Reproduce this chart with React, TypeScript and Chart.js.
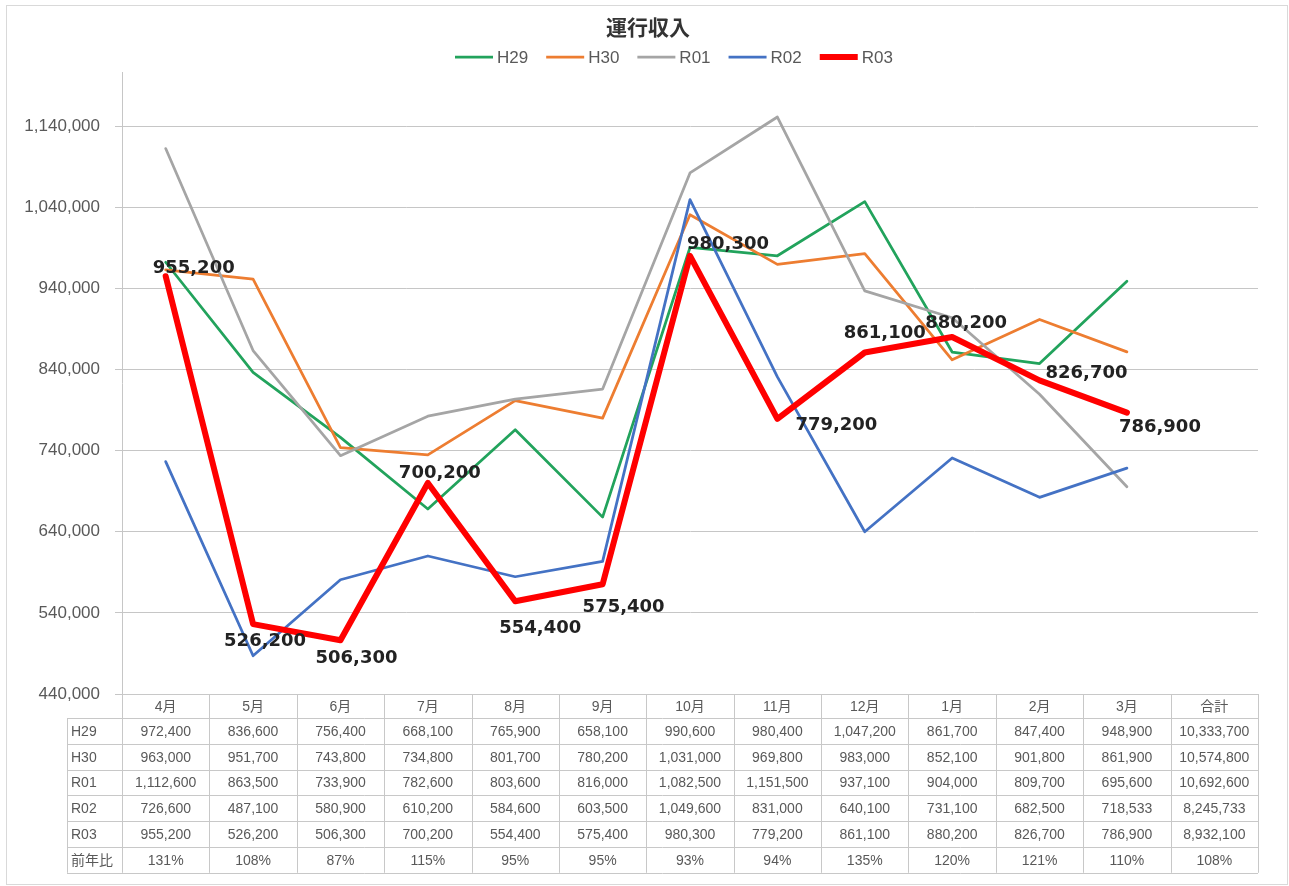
import React, { useEffect, useRef } from 'react';
import { Chart, registerables } from 'chart.js';

Chart.register(...registerables);

const months = ['4月', '5月', '6月', '7月', '8月', '9月', '10月', '11月', '12月', '1月', '2月', '3月', '合計'];
const seriesNames = ['H29', 'H30', 'R01', 'R02', 'R03'];
const H29 = [972400, 836600, 756400, 668100, 765900, 658100, 990600, 980400, 1047200, 861700, 847400, 948900];
const H30 = [963000, 951700, 743800, 734800, 801700, 780200, 1031000, 969800, 983000, 852100, 901800, 861900];
const R01 = [1112600, 863500, 733900, 782600, 803600, 816000, 1082500, 1151500, 937100, 904000, 809700, 695600];
const R02 = [726600, 487100, 580900, 610200, 584600, 603500, 1049600, 831000, 640100, 731100, 682500, 718533];
const R03 = [955200, 526200, 506300, 700200, 554400, 575400, 980300, 779200, 861100, 880200, 826700, 786900];
const totals = [10333700, 10574800, 10692600, 8245733, 8932100];
const yoyLabel = '前年比';
const yoy = ['131%', '108%', '87%', '115%', '95%', '95%', '93%', '94%', '135%', '120%', '121%', '110%', '108%'];
const yTickValues = [440000, 540000, 640000, 740000, 840000, 940000, 1040000, 1140000];

const Y_MIN = 440000;
const Y_MAX = 1207000;

const colors = ['#22A35C', '#ED7D31', '#A5A5A5', '#4472C4', '#FF0000'];
const widths = [2.75, 2.75, 2.75, 2.75, 6];

// label offsets (dx, dy) relative to the R03 points, as placed in the original
const labelOffsets = [
  [28, -8], [12, 17], [16, 18], [12, -10], [25, 27], [21, 23],
  [38, -12], [59, 6], [20, -19], [14, -14], [47, -7], [33, 15],
];

const fmt = (v: number) => v.toLocaleString('en-US');

const framePlugin = {
  id: 'frame',
  beforeDraw(chart: any) {
    const ctx = chart.ctx;
    ctx.save();
    ctx.fillStyle = '#ffffff';
    ctx.fillRect(0, 0, chart.width, chart.height);
    ctx.strokeStyle = '#D9D9D9';
    ctx.lineWidth = 1;
    ctx.strokeRect(6.5, 5.5, 1281, 879);
    ctx.restore();
  },
};

const headerPlugin = {
  id: 'header',
  afterDraw(chart: any) {
    const ctx = chart.ctx;
    ctx.save();
    ctx.fillStyle = '#333333';
    ctx.font = 'bold 21px "Noto Sans CJK JP", sans-serif';
    ctx.textAlign = 'center';
    ctx.textBaseline = 'middle';
    ctx.fillText('運行収入', 648, 27);

    ctx.font = '17px "Liberation Sans", sans-serif';
    ctx.textAlign = 'left';
    let x = 455;
    const y = 57;
    chart.data.datasets.forEach((ds: any) => {
      ctx.strokeStyle = ds.borderColor;
      ctx.lineWidth = ds.borderWidth;
      ctx.lineCap = 'butt';
      ctx.beginPath();
      ctx.moveTo(x, y);
      ctx.lineTo(x + 38, y);
      ctx.stroke();
      ctx.fillStyle = '#595959';
      ctx.fillText(ds.label, x + 42, y + 1);
      x += 42 + ctx.measureText(ds.label).width + 18;
    });
    ctx.restore();
  },
};

const labelPlugin = {
  id: 'r03labels',
  afterDatasetsDraw(chart: any) {
    const idx = chart.data.datasets.findIndex((d: any) => d.label === 'R03');
    const meta = chart.getDatasetMeta(idx);
    const ctx = chart.ctx;
    ctx.save();
    ctx.font = 'bold 18px "DejaVu Sans", sans-serif';
    ctx.fillStyle = '#222222';
    ctx.textAlign = 'center';
    ctx.textBaseline = 'middle';
    meta.data.forEach((pt: any, i: number) => {
      const off = labelOffsets[i] || [0, 0];
      ctx.fillText(fmt(R03[i]), pt.x + off[0], pt.y + off[1]);
    });
    ctx.restore();
  },
};

const tablePlugin = {
  id: 'datatable',
  afterDraw(chart: any) {
    const ctx = chart.ctx;
    const area = chart.chartArea;
    const xs = chart.scales.x;
    const n = months.length;
    const colW = (area.right - area.left) / n;
    const top = area.bottom;
    const headH = 24;
    const rowH = 25.8;
    const rowsLeft = 67;
    const nRows = 6;
    const bottom = top + headH + rowH * nRows;
    const crisp = (v: number) => Math.round(v) + 0.5;

    ctx.save();
    ctx.strokeStyle = '#C8C8C8';
    ctx.lineWidth = 1;
    ctx.beginPath();
    ctx.moveTo(area.left, crisp(top));
    ctx.lineTo(area.right, crisp(top));
    for (let r = 0; r <= nRows; r++) {
      const y = crisp(top + headH + rowH * r);
      ctx.moveTo(rowsLeft, y);
      ctx.lineTo(area.right, y);
    }
    for (let k = 0; k <= n; k++) {
      const x = crisp(area.left + colW * k);
      ctx.moveTo(x, top);
      ctx.lineTo(x, bottom);
    }
    ctx.moveTo(crisp(rowsLeft), top + headH);
    ctx.lineTo(crisp(rowsLeft), bottom);
    ctx.stroke();

    ctx.fillStyle = '#595959';
    ctx.font = '14px "Liberation Sans", "Noto Sans CJK JP", sans-serif';
    ctx.textBaseline = 'middle';
    ctx.textAlign = 'center';
    months.forEach((m, i) => {
      ctx.fillText(m, xs.getPixelForValue(i), top + headH / 2 + 1);
    });
    const allSeries = [H29, H30, R01, R02, R03];
    allSeries.forEach((s, r) => {
      const cy = top + headH + rowH * r + rowH / 2 + 1;
      ctx.textAlign = 'left';
      ctx.fillText(seriesNames[r], rowsLeft + 4, cy);
      ctx.textAlign = 'center';
      s.forEach((v, i) => ctx.fillText(fmt(v), xs.getPixelForValue(i), cy));
      ctx.fillText(fmt(totals[r]), xs.getPixelForValue(n - 1), cy);
    });
    const cy = top + headH + rowH * 5 + rowH / 2 + 1;
    ctx.textAlign = 'left';
    ctx.fillText(yoyLabel, rowsLeft + 4, cy);
    ctx.textAlign = 'center';
    yoy.forEach((v, i) => ctx.fillText(v, xs.getPixelForValue(i), cy));
    ctx.restore();
  },
};

export default function App() {
  const ref = useRef<HTMLCanvasElement | null>(null);
  useEffect(() => {
    if (!ref.current) return;
    const data = [H29, H30, R01, R02, R03];
    const chart = new Chart(ref.current, {
      type: 'line',
      data: {
        labels: months,
        datasets: seriesNames.map((name, i) => ({
          label: name,
          data: data[i],
          borderColor: colors[i],
          backgroundColor: colors[i],
          borderWidth: widths[i],
          pointRadius: 0,
          pointHoverRadius: 0,
          tension: 0,
          fill: false,
          borderJoinStyle: 'round' as const,
          borderCapStyle: 'round' as const,
          order: 5 - i,
        })),
      },
      options: {
        responsive: false,
        animation: false,
        events: [],
        layout: { padding: { top: 72, right: 31, bottom: 192, left: 0 } },
        plugins: {
          legend: { display: false },
          title: { display: false },
          tooltip: { enabled: false },
        },
        scales: {
          x: {
            type: 'category',
            display: false,
            offset: true,
          },
          y: {
            type: 'linear',
            min: Y_MIN,
            max: Y_MAX,
            afterFit(scale: any) {
              scale.width = 122;
            },
            afterBuildTicks(scale: any) {
              scale.ticks = yTickValues.map((v) => ({ value: v }));
            },
            ticks: {
              padding: 15,
              color: '#595959',
              font: { family: '"Liberation Sans", sans-serif', size: 17 },
              callback: (v: any) => fmt(Number(v)),
            },
            grid: {
              color: '#C6C6C6',
              lineWidth: 1,
              tickLength: 7,
              drawTicks: true,
            },
            border: { display: true, color: '#C6C6C6' },
          },
        },
      },
      plugins: [framePlugin, labelPlugin, tablePlugin, headerPlugin],
    });
    return () => chart.destroy();
  }, []);
  return (
    <div style={{ position: 'absolute', left: 0, top: 0, width: 1289, height: 886 }}>
      <canvas ref={ref} width={1289} height={886} style={{ width: 1289, height: 886, display: 'block' }} />
    </div>
  );
}
